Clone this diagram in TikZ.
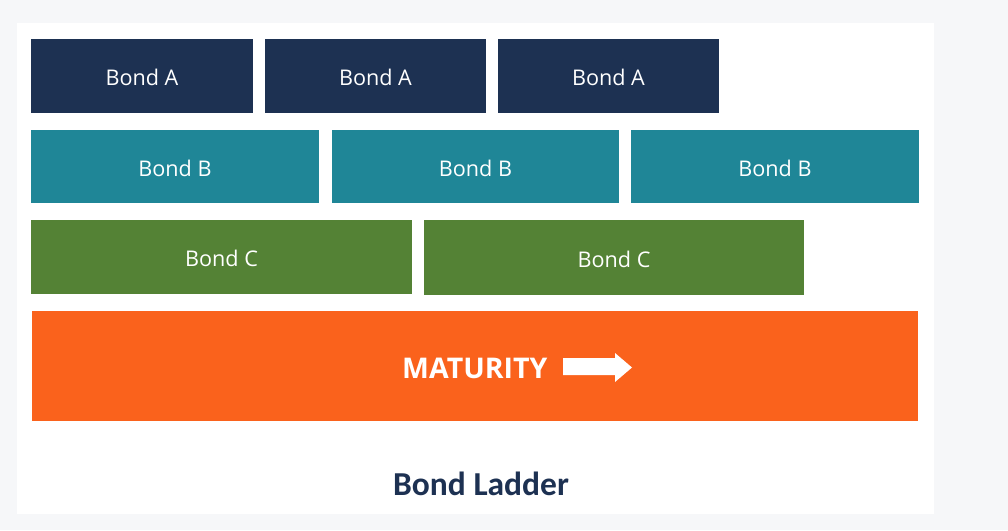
\documentclass[tikz,border=0pt]{standalone}
\usepackage{fontspec}
\setmainfont{Open Sans}
\newfontfamily\titlefont{Carlito}
\definecolor{pagebg}{HTML}{F6F7F9}
\definecolor{navy}{HTML}{1D3152}
\definecolor{tealc}{HTML}{1F8697}
\definecolor{greenc}{HTML}{548235}
\definecolor{orangec}{HTML}{FA621C}
\begin{document}
\begin{tikzpicture}[x=1pt,y=-1pt,
  bondbox/.style={inner sep=0pt, text=white, font=\fontsize{21.6}{25}\selectfont, yshift=-1.5pt},
  rowa/.style={bondbox, fill=navy},
  rowb/.style={bondbox, fill=tealc},
  rowc/.style={bondbox, fill=greenc}]
\useasboundingbox[fill=pagebg] (0,0) rectangle (1008,530);
\fill[white] (17,23) rectangle (934,514);
% row A
\fill[navy] (31,39) rectangle (253,113);
\fill[navy] (265,39) rectangle (486,113);
\fill[navy] (498,39) rectangle (719,113);
\node[bondbox] (a1) at (142,76) {Bond A};
\node[bondbox] (a2) at (375.5,76) {Bond A};
\node[bondbox] (a3) at (608.5,76) {Bond A};
% row B
\fill[tealc] (31,130) rectangle (319,203);
\fill[tealc] (332,130) rectangle (619,203);
\fill[tealc] (631,130) rectangle (919,203);
\node[bondbox] (b1) at (175,166.5) {Bond B};
\node[bondbox] (b2) at (475.5,166.5) {Bond B};
\node[bondbox] (b3) at (775,166.5) {Bond B};
% row C
\fill[greenc] (31,220) rectangle (412,294);
\fill[greenc] (424,220) rectangle (804,295);
\node[bondbox] (c1) at (221.5,257) {Bond C};
\node[bondbox] (c2) at (614,257.5) {Bond C};
% maturity
\fill[orangec] (32,311) rectangle (918,421);
\node[anchor=base west, inner sep=0pt, text=white, font=\fontsize{28.5}{32}\bfseries] (mat) at (402,378) {MATURITY};
\fill[white] (563,358) -- (615,358) -- (615,353) -- (632,367.5) -- (615,382) -- (615,375) -- (563,375) -- cycle;
% title
\node[anchor=base, inner sep=0pt, text=navy, font=\titlefont\fontsize{33.5}{36}\bfseries] (title) at (481,495) {Bond Ladder};
\end{tikzpicture}
\end{document}
